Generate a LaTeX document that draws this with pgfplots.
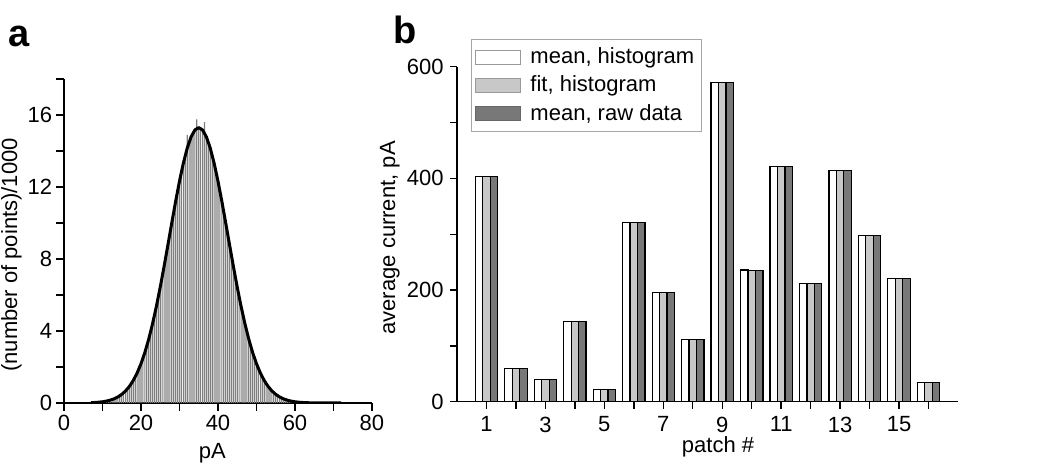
\documentclass[border=0pt]{standalone}
\usepackage{fontspec}
\setmainfont{Liberation Sans}
\usepackage{pgfplots}
\pgfplotsset{compat=1.18}
\usepackage{pgfplotstable}

\definecolor{lightbar}{HTML}{C8C8C8}
\definecolor{darkbar}{HTML}{787878}
\definecolor{histgray}{HTML}{7F7F7F}

\pgfplotstableread{
x y
10 0.07
10.5 0.09
11 0.11
11.5 0.13
12 0.16
12.5 0.20
13 0.24
13.5 0.29
14 0.34
14.5 0.41
15 0.49
15.5 0.58
16 0.68
16.5 0.80
17 0.94
17.5 1.09
18 1.27
18.5 1.46
19 1.66
19.5 1.93
20 2.20
20.5 2.47
21 2.82
21.5 3.17
22 3.55
22.5 3.95
23 4.41
23.5 4.86
24 5.38
24.5 5.88
25 6.45
25.5 7.00
26 7.60
26.5 8.18
27 8.80
27.5 9.40
28 10.02
28.5 10.60
29 11.22
29.5 11.78
30 12.30
30.5 12.86
31 13.30
31.5 13.78
32 14.90
32.5 14.55
33 14.85
33.5 15.05
34 15.25
34.5 15.75
35 15.35
35.5 15.30
36 15.20
36.5 15.60
37 14.80
37.5 14.50
38 14.15
38.5 13.78
39 13.33
39.5 12.85
40 12.33
40.5 11.78
41 11.22
41.5 10.62
42 10.02
42.5 9.40
43 8.80
43.5 8.19
44 7.60
44.5 7.01
45 6.44
45.5 5.90
46 5.37
46.5 4.87
47 4.40
47.5 3.96
48 3.55
48.5 3.16
49 2.81
49.5 2.48
50 2.19
50.5 1.92
51 1.67
51.5 1.45
52 1.26
52.5 1.08
53 0.93
53.5 0.79
54 0.68
54.5 0.57
55 0.48
55.5 0.40
56 0.34
56.5 0.28
57 0.23
57.5 0.19
58 0.16
58.5 0.13
59 0.11
59.5 0.09
60 0.07
}\histtable

\pgfplotstableread{
x y
7 0.017
8 0.028
9 0.044
10 0.068
11 0.105
12 0.157
13 0.232
14 0.336
15 0.480
16 0.672
17 0.926
18 1.254
19 1.669
20 2.182
21 2.804
22 3.543
23 4.399
24 5.368
25 6.438
26 7.589
27 8.792
28 10.010
29 11.204
30 12.323
31 13.321
32 14.153
33 14.779
34 15.168
35 15.300
36 15.168
37 14.779
38 14.153
39 13.321
40 12.323
41 11.204
42 10.010
43 8.792
44 7.589
45 6.438
46 5.368
47 4.399
48 3.543
49 2.804
50 2.182
51 1.669
52 1.254
53 0.926
54 0.672
55 0.480
56 0.336
57 0.232
58 0.157
59 0.105
60 0.068
61 0.044
62 0.028
63 0.017
64 0.011
65 0.006
66 0.003
67 0.002
68 0.001
69 0.000
70 0.000
71 0.000
72 0.000
}\fittable

\pgfplotstableread{
p mh fh mr
1 403 403 403
2 60 60 60
3 40 40 40
4 144 144 144
5 22 22 22
6 321 321 321
7 195 195 195
8 111 111 111
9 571 571 571
10 236 235 235
11 421 421 421
12 211 211 211
13 414 414 414
14 298 298 298
15 221 221 221
16 34 34 34
}\patchtable

\pgfplotsset{
  panelstyle/.style={
    scale only axis,
    anchor=south west,
    axis x line=bottom,
    axis y line=left,
    axis line style={-, line width=0.7pt, black},
    tick style={line width=0.7pt, black},
    tick align=outside,
    major tick length=3.5pt,
    minor tick length=3.5pt,
    /pgf/number format/assume math mode=true,
    ticklabel style={font=\fontsize{11}{13}\selectfont},
    label style={font=\fontsize{11}{13}\selectfont, inner sep=0pt},
  },
}

\begin{document}
\begin{tikzpicture}[x=1pt,y=1pt]
\path[use as bounding box] (0,0) rectangle (525,235.5);

\node[anchor=base west, inner sep=0pt, font=\fontsize{19}{21}\selectfont\bfseries] at (4,212.25) {a};
\node[anchor=base west, inner sep=0pt, font=\fontsize{19}{21}\selectfont\bfseries] at (196.5,213.75) {b};

% Panel a
\begin{axis}[
  panelstyle,
  at={(32pt,34pt)},
  width=154pt, height=162pt,
  xmin=0, xmax=80, ymin=0, ymax=18,
  xtick={0,20,40,60,80},
  minor xtick={10,30,50,70},
  ytick={0,4,8,12,16},
  minor ytick={2,6,10,14,18},
  major tick length=3.8pt,
  minor tick length=3.8pt,
  xticklabel style={inner ysep=2.2pt},
  yticklabel style={inner xsep=2pt},
  xlabel={pA},
  ylabel={(number of points)/1000},
  xlabel style={at={(axis description cs:0.482,-0.1700)}, anchor=base},
  ylabel style={at={(axis description cs:-0.1364,0.457)}, anchor=south},
]
\addplot[ybar, bar width=0.3, fill=histgray, draw=none] table[x=x,y=y] {\histtable};
\addplot[black, line width=1.5pt, line join=round, no marks] table[x=x,y=y] {\fittable};
\end{axis}

% Panel b
\begin{axis}[
  panelstyle,
  at={(228.5pt,34.65pt)},
  width=250.5pt, height=167.5pt,
  xmin=0, xmax=17, ymin=0, ymax=600,
  ybar=0pt, bar width=3.73pt,
  xtick={1,3,5,7,9,11,13,15},
  minor xtick={2,4,6,8,10,12,14,16},
  ytick={0,200,400,600},
  minor ytick={100,300,500},
  xticklabel style={inner ysep=3.8pt},
  yticklabel style={inner xsep=3pt},
  xlabel={patch \#},
  ylabel={average current, pA},
  xlabel style={at={(axis description cs:0.521,-0.153)}, anchor=base},
  ylabel style={at={(axis description cs:-0.1138,0.489)}, anchor=south},
  legend cell align=left,
  legend style={at={(axis description cs:0.0273,1.083)}, anchor=north west,
    draw=black!35, line width=0.6pt, font=\fontsize{11}{13}\selectfont,
    inner xsep=2pt, inner ysep=3pt, row sep=2.2pt,
    nodes={inner xsep=1.5pt, inner ysep=1.2pt}},
]
\addplot[fill=white, draw=black, line width=0.6pt,
  legend image code/.code={\draw[fill=white, draw=black!40, line width=0.6pt] (0pt,-3.5pt) rectangle (22.5pt,3.5pt); \path (25.5pt,0pt);}]
  table[x=p,y=mh] {\patchtable};
\addlegendentry{mean, histogram}
\addplot[fill=lightbar, draw=black, line width=0.6pt,
  legend image code/.code={\draw[fill=lightbar, draw=black!40, line width=0.6pt] (0pt,-3.5pt) rectangle (22.5pt,3.5pt); \path (25.5pt,0pt);}]
  table[x=p,y=fh] {\patchtable};
\addlegendentry{fit, histogram}
\addplot[fill=darkbar, draw=black, line width=0.6pt,
  legend image code/.code={\draw[fill=darkbar, draw=black!60, line width=0.6pt] (0pt,-3.5pt) rectangle (22.5pt,3.5pt); \path (25.5pt,0pt);}]
  table[x=p,y=mr] {\patchtable};
\addlegendentry{mean, raw data}
\end{axis}
\end{tikzpicture}
\end{document}
